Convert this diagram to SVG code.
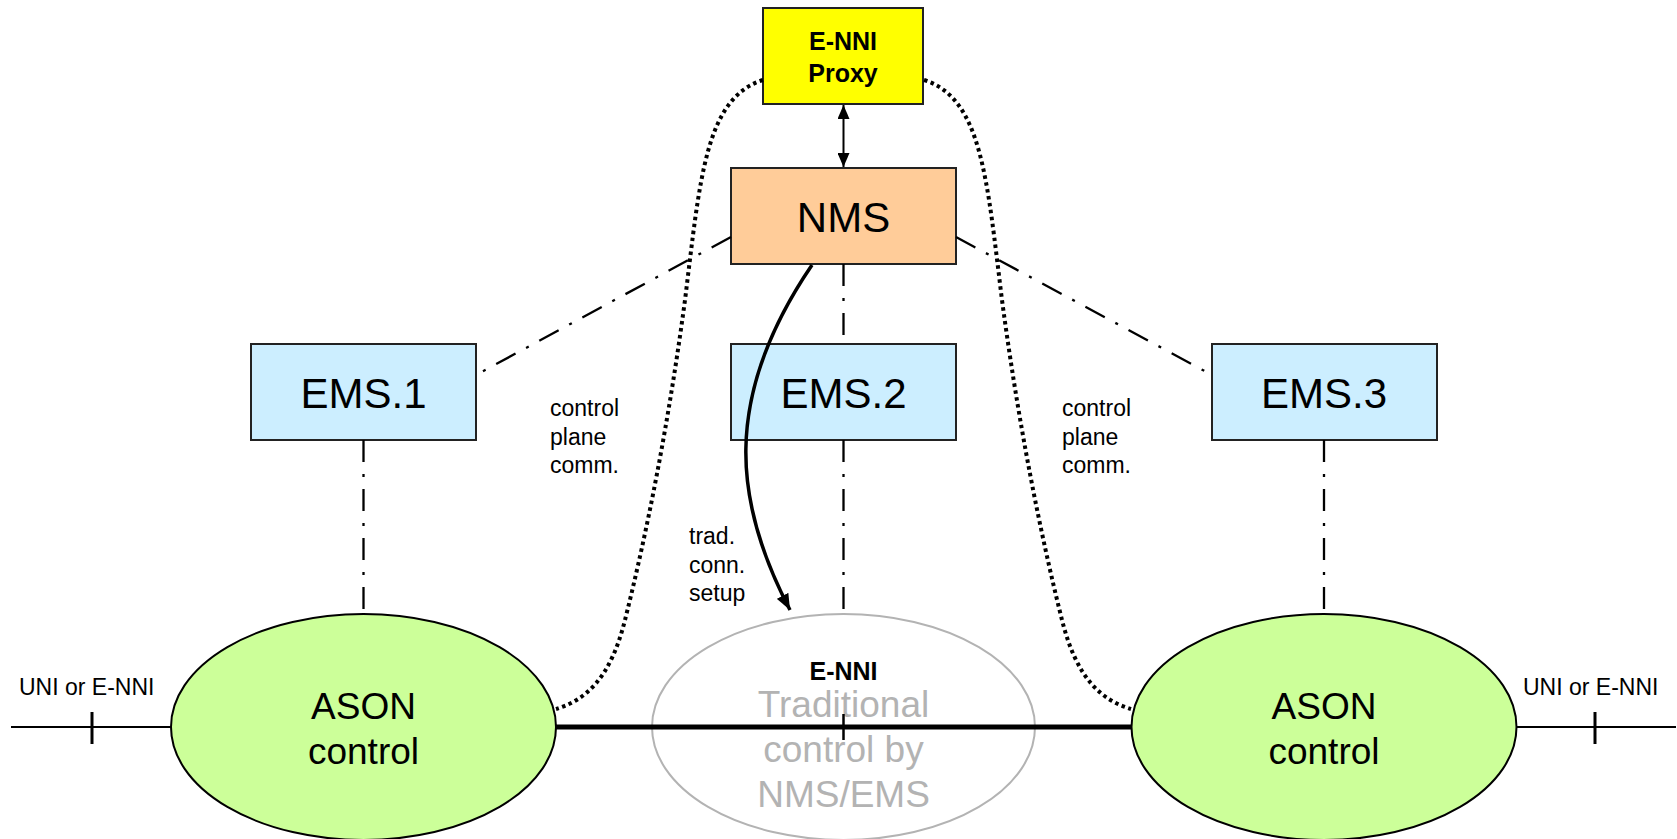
<svg xmlns="http://www.w3.org/2000/svg" width="1677" height="839" viewBox="0 0 1677 839">
  <defs>
    <style>
      text { font-family: "Liberation Sans", Arial, sans-serif; fill: #000; }
      .box { stroke: #222; stroke-width: 2; }
      .big { font-size: 42px; text-anchor: middle; }
      .ason { font-size: 37px; text-anchor: middle; }
      .lbl { font-size: 23px; }
      .bold { font-size: 25px; font-weight: bold; text-anchor: middle; }
      .grey { font-size: 37px; text-anchor: middle; fill: #b3b3b3; }
      .dashdot { fill: none; stroke: #000; stroke-width: 2.3; stroke-dasharray: 22 12 3 12; }
      .dotted { fill: none; stroke: #000; stroke-width: 4; stroke-dasharray: 3.5 3.5; }
      .thin { stroke: #000; stroke-width: 2; }
      .tick { stroke: #000; stroke-width: 3; }
    </style>
    <marker id="arrowHead" viewBox="0 0 14 12" refX="14" refY="6" markerWidth="14" markerHeight="12" markerUnits="userSpaceOnUse" orient="auto-start-reverse">
      <path d="M0,0 L14,6 L0,12 Z" fill="#000"/>
    </marker>
    <marker id="bigHead" viewBox="0 0 16 13" refX="16" refY="6.5" markerWidth="16" markerHeight="13" markerUnits="userSpaceOnUse" orient="auto">
      <path d="M0,0 L16,6.5 L0,13 Z" fill="#000"/>
    </marker>
  </defs>

  <rect width="1677" height="839" fill="#fff"/>

  <!-- traditional domain -->
  <g id="traditional">
    <ellipse cx="843.5" cy="727" rx="191.5" ry="113" fill="none" stroke="#b3b3b3" stroke-width="2"/>
    <text class="bold" x="843.5" y="680">E-NNI</text>
    <text class="grey" x="843.5" y="717">Traditional</text>
    <text class="grey" x="843.5" y="762">control by</text>
    <text class="grey" x="843.5" y="807">NMS/EMS</text>
  </g>

  <g id="proxy">
    <rect class="box" x="763" y="8" width="160" height="96" fill="#ffff00"/>
    <text class="bold" x="843" y="50">E-NNI</text>
    <text class="bold" x="843" y="82">Proxy</text>
  </g>

  <g id="nms">
    <rect class="box" x="731" y="168" width="225" height="96" fill="#ffcc99"/>
    <text class="big" x="843.5" y="232">NMS</text>
  </g>

  <g id="ems1">
    <rect class="box" x="251" y="344" width="225" height="96" fill="#cceeff"/>
    <text class="big" x="363.5" y="408">EMS.1</text>
  </g>

  <g id="ems2">
    <rect class="box" x="731" y="344" width="225" height="96" fill="#cceeff"/>
    <text class="big" x="843.5" y="408">EMS.2</text>
  </g>

  <g id="ems3">
    <rect class="box" x="1212" y="344" width="225" height="96" fill="#cceeff"/>
    <text class="big" x="1324" y="408">EMS.3</text>
  </g>

  <g id="ason-left">
    <ellipse cx="363.5" cy="727" rx="192.5" ry="113" fill="#ccff99" stroke="#000" stroke-width="2"/>
    <text class="ason" x="363.5" y="719">ASON</text>
    <text class="ason" x="363.5" y="764">control</text>
  </g>

  <g id="ason-right">
    <ellipse cx="1324" cy="727" rx="192.5" ry="113" fill="#ccff99" stroke="#000" stroke-width="2"/>
    <text class="ason" x="1324" y="719">ASON</text>
    <text class="ason" x="1324" y="764">control</text>
  </g>

  <!-- connectors -->
  <g id="connectors">
    <!-- management links (dash-dot) -->
    <line class="dashdot" x1="731" y1="237" x2="476" y2="375"/>
    <line class="dashdot" x1="956" y1="237" x2="1212" y2="375"/>
    <line class="dashdot" x1="843.5" y1="264" x2="843.5" y2="344"/>
    <line class="dashdot" x1="363.5" y1="440" x2="363.5" y2="614"/>
    <line class="dashdot" x1="843.5" y1="440" x2="843.5" y2="614"/>
    <line class="dashdot" x1="1324" y1="440" x2="1324" y2="614"/>

    <!-- control plane communication (dotted) -->
    <path class="dotted" d="M763,80 C705,98 700,180 685,300 C665,450 640,560 625,620 C610,680 585,700 556,709"/>
    <path class="dotted" d="M924,80 C982,98 987,180 1002,300 C1022,450 1047,560 1062,620 C1077,680 1102,700 1131,709"/>

    <!-- proxy <-> NMS -->
    <line class="thin" x1="843.5" y1="105" x2="843.5" y2="167" marker-start="url(#arrowHead)" marker-end="url(#arrowHead)"/>

    <!-- traditional connection setup -->
    <path d="M812,265 C720,400 735,505 790,610" fill="none" stroke="#000" stroke-width="3.5" marker-end="url(#bigHead)"/>

    <!-- transport links -->
    <line class="thin" x1="11" y1="727" x2="171" y2="727"/>
    <line class="tick" x1="92" y1="712" x2="92" y2="744"/>
    <line class="thin" x1="1516" y1="727" x2="1676" y2="727"/>
    <line class="tick" x1="1595" y1="712" x2="1595" y2="744"/>
    <line x1="556" y1="727" x2="1131" y2="727" stroke="#000" stroke-width="5"/>
    <line x1="843.5" y1="714" x2="843.5" y2="740" stroke="#000" stroke-width="2.5"/>
  </g>

  <!-- link labels -->
  <g id="labels">
    <text class="lbl" x="550" y="416">control</text>
    <text class="lbl" x="550" y="444.5">plane</text>
    <text class="lbl" x="550" y="473">comm.</text>
    <text class="lbl" x="1062" y="416">control</text>
    <text class="lbl" x="1062" y="444.5">plane</text>
    <text class="lbl" x="1062" y="473">comm.</text>
    <text class="lbl" x="689" y="544">trad.</text>
    <text class="lbl" x="689" y="572.5">conn.</text>
    <text class="lbl" x="689" y="601">setup</text>
    <text class="lbl" x="19" y="695">UNI or E-NNI</text>
    <text class="lbl" x="1523" y="695">UNI or E-NNI</text>
  </g>
</svg>
